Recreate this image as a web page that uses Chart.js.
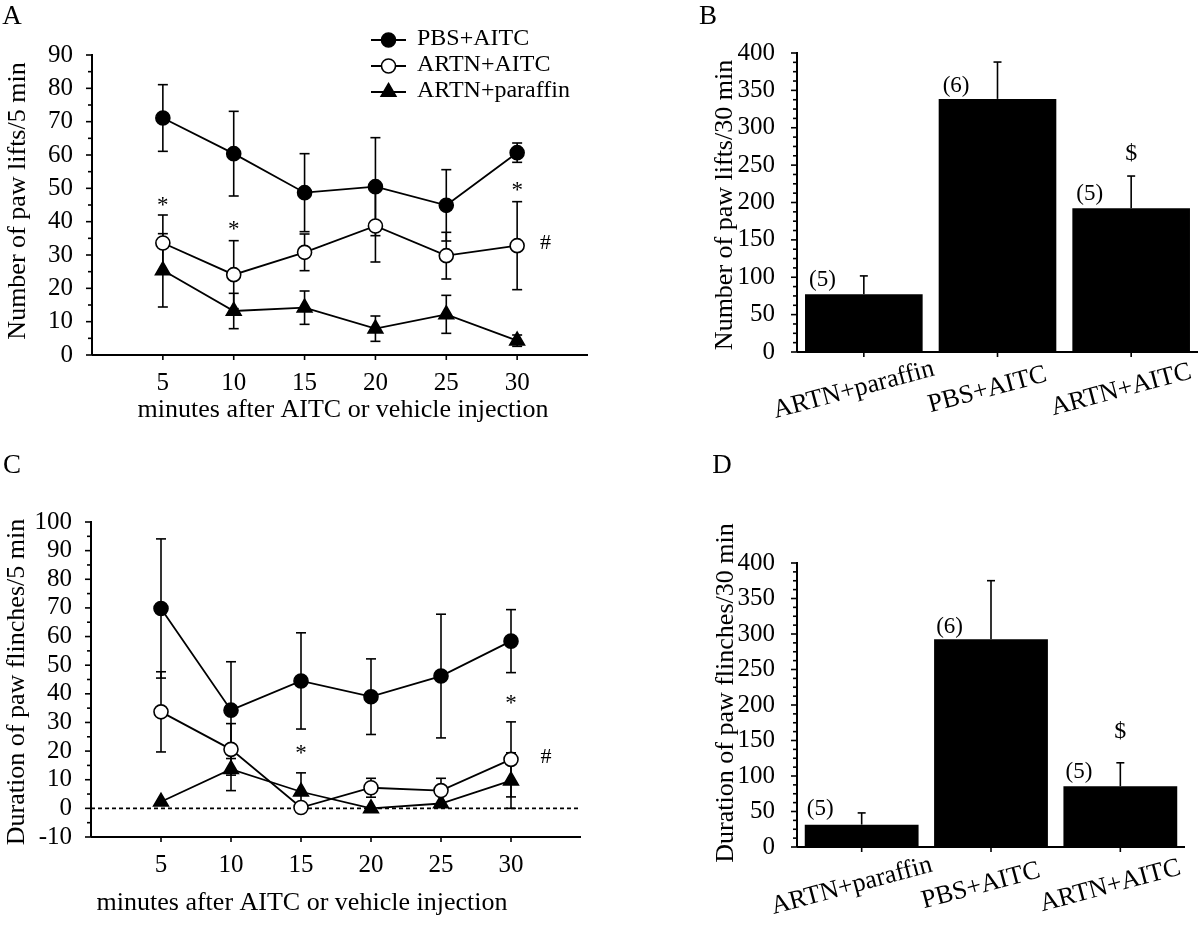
<!DOCTYPE html>
<html><head><meta charset="utf-8">
<script src="https://cdn.jsdelivr.net/npm/chart.js@4.4.1/dist/chart.umd.min.js"></script>
<style>
html,body{margin:0;padding:0;background:#fff;}
#wrap{position:relative;width:1200px;height:927px;overflow:hidden;background:#fff;}
canvas{position:absolute;}
</style></head><body>
<div id="wrap">
<canvas id="cA" width="600" height="440" style="left:0px;top:0px"></canvas>
<canvas id="cB" width="600" height="440" style="left:600px;top:0px"></canvas>
<canvas id="cC" width="600" height="487" style="left:0px;top:440px"></canvas>
<canvas id="cD" width="600" height="487" style="left:600px;top:440px"></canvas>
</div>
<script>
// ---------- data ----------
const minutes = [5, 10, 15, 20, 25, 30];
const seriesNames = ['PBS+AITC', 'ARTN+AITC', 'ARTN+paraffin'];

// Panel A: number of paw lifts / 5 min
const liftsPBS = [71.1, 60.4, 48.7, 50.5, 44.9, 60.7];
const liftsPBSse = [10.0, 12.7, 11.7, 14.7, 10.7, 2.9];
const liftsARTN = [33.6, 24.1, 30.8, 38.7, 29.8, 32.8];
const liftsARTNse = [8.4, 10.2, 5.5, 10.8, 7.0, 13.2];
const liftsPar = [25.4, 13.2, 14.2, 7.9, 12.2, 4.3];
const liftsParse = [11.0, 5.3, 5.0, 3.8, 5.7, 1.7];
const starA_x = [5, 10, 30];
const starA_y = [46, 38.7, 50.5];
const hashA = [32, 33.4];
const yTicksA = [0, 90, 10, 5];

// Panel C: duration of paw flinches / 5 min
const flinPBS = [69.8, 34.3, 44.5, 39.0, 46.2, 58.4];
const flinPBSse = [24.3, 16.9, 16.8, 13.2, 21.6, 11.0];
const flinARTN = [33.7, 20.6, 0.3, 7.2, 6.2, 17.1];
const flinARTNse = [14.0, 9.0, 0, 3.3, 4.3, 13.1];
const flinPar = [2.3, 13.7, 5.8, 0.0, 1.7, 9.7];
const flinParse = [0, 7.5, 6.6, 0, 0, 9.7];
const starC_x = [15, 30];
const starC_y = [20.3, 38];
const hashC = [32.5, 18];
const yTicksC = [-10, 100, 10, 5];

// Panels B and D: totals over 30 min
const groups = ['ARTN+paraffin', 'PBS+AITC', 'ARTN+AITC'];
const groupN = ['(5)', '(6)', '(5)'];
const liftsTotal = [77.1, 338.6, 192.4];
const liftsTotalSe = [24.7, 49.3, 43.0];
const nLabelB_y = [96, 356, 211.7];
const dollarB = [2, 265.5];
const flinTotal = [31.5, 292.7, 85.6];
const flinTotalSe = [16.5, 82.4, 33.0];
const nLabelD_y = [54, 310.6, 105.9];
const dollarD = [2, 162.4];
const yTicksBar = [0, 400, 50, 12.5];

const xTitle = 'minutes after AITC or vehicle injection';

// ---------- helpers ----------
const FONT = '"Liberation Serif", "Times New Roman", Times, serif';
Chart.defaults.font.family = FONT;
Chart.defaults.color = '#000';

function drawMarker(ctx, style, x, y, r, fill) {
  ctx.beginPath();
  if (style === 'triangle') {
    const a = 2 * Math.PI / 3;
    ctx.moveTo(x, y - r);
    ctx.lineTo(x + r * Math.sin(a), y - r * Math.cos(a));
    ctx.lineTo(x + r * Math.sin(2 * a), y - r * Math.cos(2 * a));
    ctx.closePath();
  } else {
    ctx.arc(x, y, r, 0, 2 * Math.PI);
  }
  ctx.fillStyle = fill; ctx.fill();
  ctx.lineWidth = 1.6; ctx.strokeStyle = '#000'; ctx.stroke();
}
function seg(ctx, x1, y1, x2, y2) { ctx.beginPath(); ctx.moveTo(x1, y1); ctx.lineTo(x2, y2); ctx.stroke(); }
function text(ctx, t, x, y, size, rot, align) {
  ctx.save();
  ctx.font = size + 'px ' + FONT;
  ctx.fillStyle = '#000';
  ctx.textAlign = align || 'center';
  ctx.textBaseline = 'middle';
  ctx.translate(x, y);
  if (rot) ctx.rotate(rot * Math.PI / 180);
  ctx.fillText(t, 0, 0);
  ctx.restore();
}

function decor(o) {
  return {
    id: 'decor',
    beforeDatasetsDraw(chart) {
      const ctx = chart.ctx, xs = chart.scales.x, ys = chart.scales.y, ca = chart.chartArea;
      ctx.save();
      ctx.strokeStyle = '#000';
      if (o.zeroLine) {
        ctx.lineWidth = 1.6; ctx.setLineDash([4, 3]);
        const y0 = ys.getPixelForValue(0);
        seg(ctx, ca.left, y0, ca.right, y0);
        ctx.setLineDash([]);
      }
      if (o.lineErr) {
        ctx.lineWidth = 1.6;
        o.lineErr.forEach(([m, s]) => m.forEach((v, i) => {
          if (!s[i]) return;
          const x = xs.getPixelForValue(minutes[i]);
          const yt = ys.getPixelForValue(v + s[i]), yb = ys.getPixelForValue(v - s[i]);
          seg(ctx, x, yt, x, yb); seg(ctx, x - 5, yt, x + 5, yt); seg(ctx, x - 5, yb, x + 5, yb);
        }));
      }
      ctx.restore();
    },
    afterDatasetsDraw(chart) {
      const ctx = chart.ctx, xs = chart.scales.x, ys = chart.scales.y, ca = chart.chartArea;
      ctx.save();
      ctx.strokeStyle = '#000';
      if (o.barErr) {
        ctx.lineWidth = 1.6;
        const [m, s] = o.barErr;
        m.forEach((v, i) => {
          const x = xs.getPixelForValue(i);
          const yb = ys.getPixelForValue(v), yt = ys.getPixelForValue(v + s[i]);
          seg(ctx, x, yb, x, yt); seg(ctx, x - 4, yt, x + 4, yt);
        });
      }
      // axes
      ctx.lineWidth = 2;
      const [ymin, ymax, major, minor] = o.yTicks;
      const yTop = ys.getPixelForValue(ymax), yBot = ys.getPixelForValue(ymin);
      seg(ctx, ca.left, yTop - 1, ca.left, yBot);
      seg(ctx, ca.left, yBot, ca.right, yBot);
      ctx.lineWidth = 1.6;
      for (let v = ymin; v <= ymax + 1e-6; v += minor) {
        const py = ys.getPixelForValue(v);
        const isMajor = Math.abs(v / major - Math.round(v / major)) < 1e-6;
        seg(ctx, ca.left - (isMajor ? 6 : 4), py, ca.left, py);
      }
      xs.ticks.forEach((t, i) => {
        const px = xs.getPixelForTick(i);
        seg(ctx, px, yBot, px, yBot + 5);
      });
      // annotations in data coordinates
      (o.marks || []).forEach(mk => {
        const px = xs.getPixelForValue(mk.x), py = ys.getPixelForValue(mk.y);
        text(ctx, mk.t, px, py + (mk.dy || 0), mk.size || 23);
      });
      // category labels
      if (o.cats) {
        groups.forEach((g, i) => {
          const px = xs.getPixelForTick(i) + o.cats.dx;
          text(ctx, g, px, o.cats.y - o.oy, 26, -15);
        });
      }
      // free texts (page coordinates)
      (o.texts || []).forEach(t => text(ctx, t.t, t.x - o.ox, t.y - o.oy, t.size || 26, t.rot || 0, t.align));
      // legend
      if (o.legend) {
        const L = o.legend;
        chart.data.datasets.forEach((ds, i) => {
          const y = L.ys[i];
          ctx.lineWidth = 1.8;
          seg(ctx, L.x1, y, L.x2, y);
          drawMarker(ctx, ds.pointStyle, L.xm, y, ds.pointRadius, ds.pointBackgroundColor);
          text(ctx, ds.label, L.xt, y - 1, 24, 0, 'left');
        });
      }
      ctx.restore();
    }
  };
}

function lineDatasets(a, b, c) {
  const mk = (label, vals, style, fill, r) => ({
    label, data: minutes.map((x, i) => ({x, y: vals[i]})),
    borderColor: '#000', borderWidth: 1.8, pointStyle: style, pointRadius: r,
    pointBackgroundColor: fill, pointBorderColor: '#000', pointBorderWidth: 1.6,
    fill: false, tension: 0, clip: false
  });
  return [mk(seriesNames[0], a, 'circle', '#000', 7), mk(seriesNames[1], b, 'circle', '#fff', 7),
          mk(seriesNames[2], c, 'triangle', '#000', 8.5)];
}

function lineOptions(pad, yT, yW, xH, tickPadY) {
  return {
    responsive: false, animation: false, events: [],
    layout: {padding: pad},
    plugins: {legend: {display: false}, tooltip: {enabled: false}},
    scales: {
      x: {type: 'linear', min: 0, max: 35,
          afterBuildTicks: s => { s.ticks = minutes.map(v => ({value: v})); },
          afterFit: s => { s.height = xH; },
          grid: {display: false, drawTicks: false}, border: {display: false},
          ticks: {padding: 13, font: {size: 25}, color: '#000', autoSkip: false, maxRotation: 0}},
      y: {min: yT[0], max: yT[1],
          afterFit: s => { s.width = yW; },
          grid: {display: false, drawTicks: false}, border: {display: false},
          ticks: {stepSize: yT[2], padding: tickPadY, font: {size: 25}, color: '#000', autoSkip: false}}
    }
  };
}

function barOptions(pad, yW, xH) {
  return {
    responsive: false, animation: false, events: [],
    layout: {padding: pad},
    plugins: {legend: {display: false}, tooltip: {enabled: false}},
    scales: {
      x: {afterFit: s => { s.height = xH; },
          grid: {display: false, drawTicks: false}, border: {display: false},
          ticks: {display: false}},
      y: {min: yTicksBar[0], max: yTicksBar[1],
          afterFit: s => { s.width = yW; },
          grid: {display: false, drawTicks: false}, border: {display: false},
          ticks: {stepSize: yTicksBar[2], padding: 22, font: {size: 25}, color: '#000', autoSkip: false}}
    }
  };
}

// ---------- Panel A ----------
new Chart(document.getElementById('cA'), {
  type: 'line',
  data: {datasets: lineDatasets(liftsPBS, liftsARTN, liftsPar)},
  options: lineOptions({top: 55, right: 12, left: 0, bottom: 0}, yTicksA, 92, 85, 19),
  plugins: [decor({
    ox: 0, oy: 0, yTicks: yTicksA,
    lineErr: [[liftsPBS, liftsPBSse], [liftsARTN, liftsARTNse], [liftsPar, liftsParse]],
    marks: starA_x.map((x, i) => ({t: '*', x, y: starA_y[i], dy: 4, size: 23}))
      .concat([{t: '#', x: hashA[0], y: hashA[1], size: 22}]),
    texts: [
      {t: 'A', x: 12, y: 17, size: 27},
      {t: 'Number of paw lifts/5 min', x: 18, y: 201, rot: -90},
      {t: xTitle, x: 343, y: 410}
    ],
    legend: {x1: 371, x2: 406, xm: 388.5, xt: 417, ys: [40, 66, 92]}
  })]
});

// ---------- Panel B ----------
new Chart(document.getElementById('cB'), {
  type: 'bar',
  data: {labels: groups, datasets: [{data: liftsTotal, backgroundColor: '#000', borderWidth: 0,
    barPercentage: 0.88, categoryPercentage: 1.0}]},
  options: barOptions({top: 53, right: 2, left: 0, bottom: 0}, 197, 88),
  plugins: [decor({
    ox: 600, oy: 0, yTicks: yTicksBar,
    barErr: [liftsTotal, liftsTotalSe],
    marks: groupN.map((t, i) => ({t, x: i - 0.31, y: nLabelB_y[i], size: 23}))
      .concat([{t: '$', x: dollarB[0], y: dollarB[1], size: 24}]),
    cats: {dx: -10, y: 390},
    texts: [
      {t: 'B', x: 708, y: 17, size: 27},
      {t: 'Number of paw lifts/30 min', x: 725, y: 205, rot: -90}
    ]
  })]
});

// ---------- Panel C ----------
new Chart(document.getElementById('cC'), {
  type: 'line',
  data: {datasets: lineDatasets(flinPBS, flinARTN, flinPar)},
  options: lineOptions({top: 82, right: 19, left: 0, bottom: 0}, yTicksC, 91, 90, 19),
  plugins: [decor({
    ox: 0, oy: 440, yTicks: yTicksC, zeroLine: true,
    lineErr: [[flinPBS, flinPBSse], [flinARTN, flinARTNse], [flinPar, flinParse]],
    marks: starC_x.map((x, i) => ({t: '*', x, y: starC_y[i], dy: 4, size: 23}))
      .concat([{t: '#', x: hashC[0], y: hashC[1], size: 22}]),
    texts: [
      {t: 'C', x: 12, y: 466, size: 27},
      {t: 'Duration of paw flinches/5 min', x: 17.5, y: 682, rot: -90},
      {t: xTitle, x: 302, y: 903}
    ]
  })]
});

// ---------- Panel D ----------
new Chart(document.getElementById('cD'), {
  type: 'bar',
  data: {labels: groups, datasets: [{data: flinTotal, backgroundColor: '#000', borderWidth: 0,
    barPercentage: 0.88, categoryPercentage: 1.0}]},
  options: barOptions({top: 123, right: 15, left: 0, bottom: 0}, 197, 80),
  plugins: [decor({
    ox: 600, oy: 440, yTicks: yTicksBar,
    barErr: [flinTotal, flinTotalSe],
    marks: groupN.map((t, i) => ({t, x: i - 0.32, y: nLabelD_y[i], size: 23}))
      .concat([{t: '$', x: dollarD[0], y: dollarD[1], size: 24}]),
    cats: {dx: -10, y: 886},
    texts: [
      {t: 'D', x: 722, y: 466, size: 27},
      {t: 'Duration of paw flinches/30 min', x: 726, y: 693, rot: -90}
    ]
  })]
});
</script>
</body></html>
